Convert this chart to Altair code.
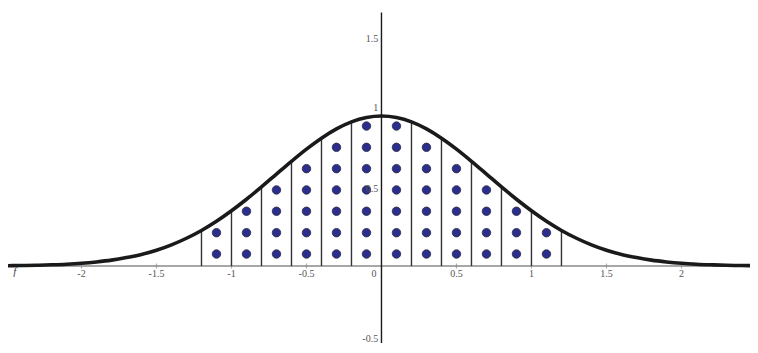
import altair as alt
import pandas as pd

# Curve values (y at each x)
curve_x = [-2.5, -2.4, -2.3, -2.2, -2.1, -2.0, -1.9, -1.8, -1.7, -1.6, -1.5, -1.4, -1.3,
           -1.2, -1.1, -1.0, -0.9, -0.8, -0.7, -0.6, -0.5, -0.4, -0.3, -0.2, -0.1, 0.0,
           0.1, 0.2, 0.3, 0.4, 0.5, 0.6, 0.7, 0.8, 0.9, 1.0, 1.1, 1.2, 1.3, 1.4, 1.5,
           1.6, 1.7, 1.8, 1.9, 2.0, 2.1, 2.2, 2.3, 2.4, 2.5]
curve_y = [0.002, 0.003, 0.005, 0.008, 0.012, 0.018, 0.027, 0.039, 0.056, 0.077, 0.105, 0.141, 0.185,
           0.237, 0.298, 0.368, 0.445, 0.527, 0.613, 0.698, 0.779, 0.852, 0.914, 0.961, 0.990, 1.000,
           0.990, 0.961, 0.914, 0.852, 0.779, 0.698, 0.613, 0.527, 0.445, 0.368, 0.298, 0.237, 0.185,
           0.141, 0.105, 0.077, 0.056, 0.039, 0.027, 0.018, 0.012, 0.008, 0.005, 0.003, 0.002]

# Vertical strip boundaries and their heights
bar_x = [-1.2, -1.0, -0.8, -0.6, -0.4, -0.2, 0.2, 0.4, 0.6, 0.8, 1.0, 1.2]
bar_top = [0.237, 0.368, 0.527, 0.698, 0.852, 0.961, 0.961, 0.852, 0.698, 0.527, 0.368, 0.237]

# Dot columns
col_x = [-1.1, -0.9, -0.7, -0.5, -0.3, -0.1, 0.1, 0.3, 0.5, 0.7, 0.9, 1.1]
col_count = [2, 3, 4, 5, 6, 7, 7, 6, 5, 4, 3, 2]
dot_levels = [0.08, 0.222, 0.365, 0.507, 0.649, 0.791, 0.933]

# Axis tick labels
x_ticks = [-2, -1.5, -1, -0.5, 0.5, 1, 1.5, 2]
x_tick_text = ["-2", "-1.5", "-1", "-0.5", "0.5", "1", "1.5", "2"]
y_ticks = [1.5, 1, 0.5, -0.5]
y_tick_text = ["1.5", "1", "0.5", "-0.5"]

XMIN, XMAX = -2.49, 2.457
YMAX = 1.72
YMIN = YMAX - 335 / 150

FONT = "Liberation Serif, Times New Roman, serif"

xs = alt.Scale(domain=[XMIN, XMAX], nice=False, zero=False)
ys = alt.Scale(domain=[YMIN, YMAX], nice=False, zero=False)

curve_df = pd.DataFrame({"x": curve_x, "y": curve_y})
bars_df = pd.DataFrame({"x": bar_x, "top": bar_top, "base": [0.0] * len(bar_x)})
dots = [{"x": cx, "y": dot_levels[i]} for cx, n in zip(col_x, col_count) for i in range(n)]
dots_df = pd.DataFrame(dots)
xt_df = pd.DataFrame({"x": x_ticks, "label": x_tick_text})
yt_df = pd.DataFrame({"y": y_ticks, "label": y_tick_text})

X = lambda f: alt.X(f, type="quantitative", scale=xs, axis=None)
Y = lambda f: alt.Y(f, type="quantitative", scale=ys, axis=None)

x_axis = alt.Chart(pd.DataFrame({"a": [XMIN], "b": [XMAX + 0.1], "y": [0.0]})).mark_rule(
    color="#8a8a8a", strokeWidth=1.6, clip=True
).encode(x=X("a"), x2="b", y=Y("y"))

y_axis = alt.Chart(pd.DataFrame({"x": [0.0], "a": [YMIN], "b": [1.69]})).mark_rule(
    color="#1a1a1a", strokeWidth=1.4
).encode(x=X("x"), y=Y("a"), y2="b")

x_tick_marks = alt.Chart(xt_df).mark_tick(
    color="#8a8a8a", orient="vertical", size=5, thickness=1.2
).encode(x=X("x"), y=alt.Y("z:Q", scale=ys, axis=None)).transform_calculate(z="0")

bars = alt.Chart(bars_df).mark_rule(color="#333333", strokeWidth=1.4).encode(
    x=X("x"), y=Y("base"), y2="top"
)

curve = alt.Chart(curve_df).mark_line(
    color="#1a1a1a", strokeWidth=3.6, interpolate="monotone", clip=True
).encode(x=X("x"), y=Y("y"))

points = alt.Chart(dots_df).mark_point(
    filled=True, shape="circle", size=72, color="#2b2e8c", stroke="#2a2a40",
    strokeWidth=0.8, opacity=1
).encode(x=X("x"), y=Y("y"))

x_labels = alt.Chart(xt_df).mark_text(
    font=FONT, fontSize=10, color="#555555", align="center", baseline="middle"
).encode(x=X("x"), y=alt.Y("ly:Q", scale=ys, axis=None), text="label:N").transform_calculate(
    ly="-0.053"
)

y_labels = alt.Chart(yt_df).mark_text(
    font=FONT, fontSize=10, color="#555555", align="right", baseline="middle"
).encode(
    x=alt.X("lx:Q", scale=xs, axis=None),
    y=alt.Y("ly:Q", scale=ys, axis=None),
    text="label:N",
).transform_calculate(lx="-0.022", ly="datum.y == 1 ? 1.053 : datum.y + 0.015")

origin_label = alt.Chart(pd.DataFrame({"x": [-0.05], "y": [-0.053], "t": ["0"]})).mark_text(
    font=FONT, fontSize=10, color="#555555", align="center", baseline="middle"
).encode(x=X("x"), y=Y("y"), text="t:N")

f_label = alt.Chart(pd.DataFrame({"x": [-2.445], "y": [-0.037], "t": ["f"]})).mark_text(
    font=FONT, fontSize=11, fontStyle="italic", color="#444444",
    align="center", baseline="middle"
).encode(x=X("x"), y=Y("y"), text="t:N")

chart = alt.layer(
    x_axis, x_tick_marks, bars, y_axis, curve, points, x_labels, y_labels, origin_label, f_label
).properties(
    width=742, height=335, padding=0, autosize="none", background="white"
).configure_view(strokeWidth=0)

chart.save("out.html", embed_options={"renderer": "svg", "actions": False})
